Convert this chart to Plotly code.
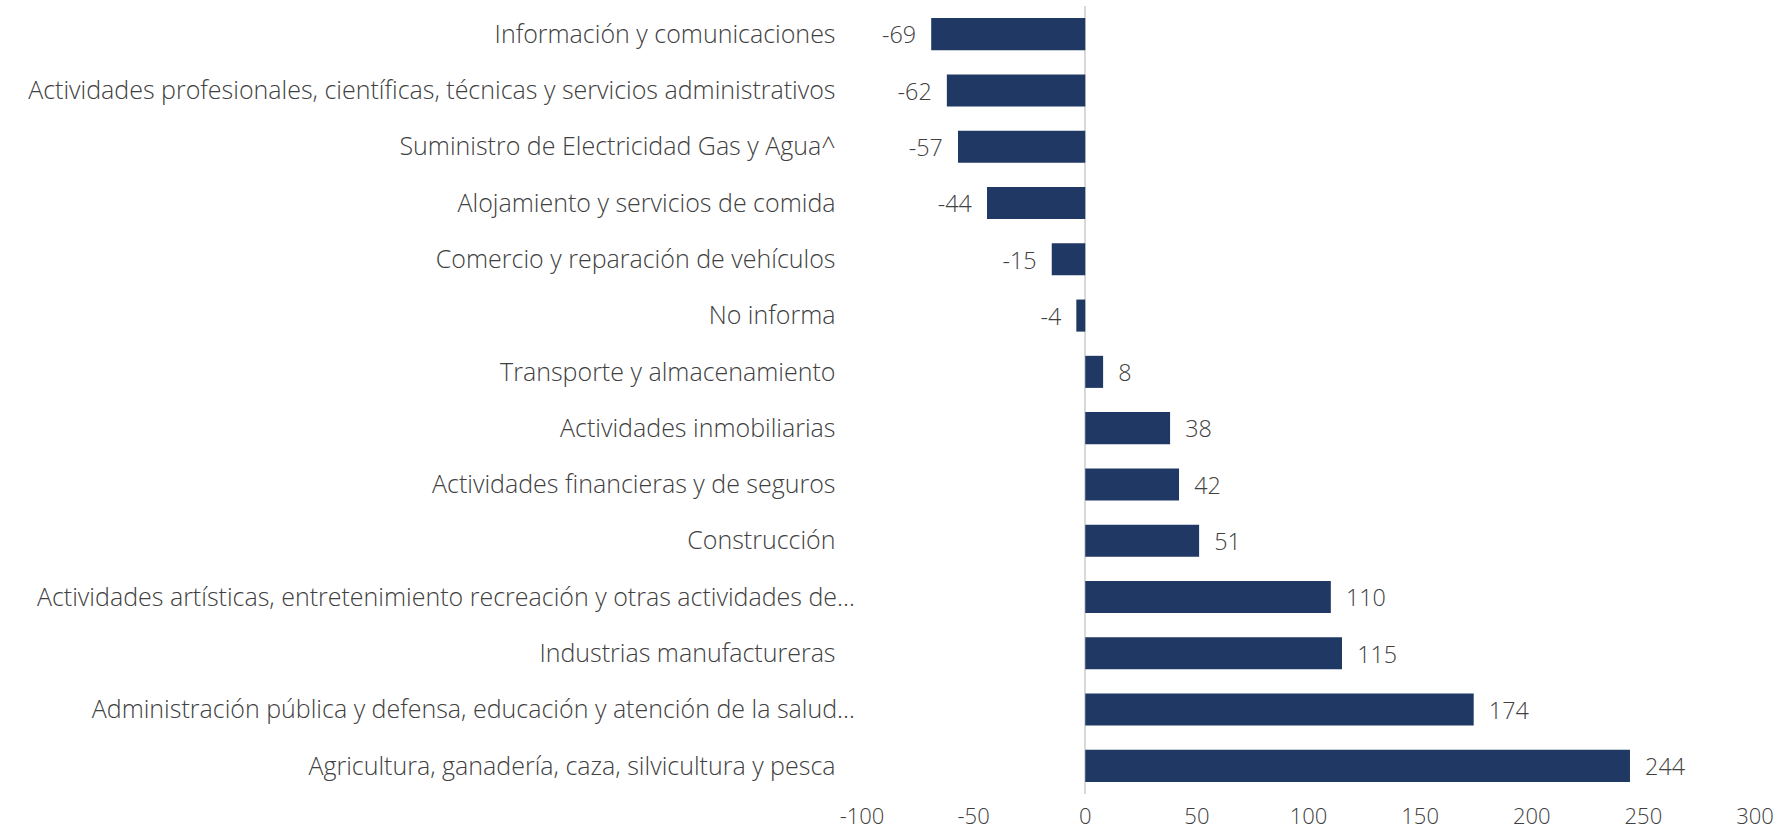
import plotly.graph_objects as go

categories = [
    "Información y comunicaciones",
    "Actividades profesionales, científicas, técnicas y servicios administrativos",
    "Suministro de Electricidad Gas y Agua^",
    "Alojamiento y servicios de comida",
    "Comercio y reparación de vehículos",
    "No informa",
    "Transporte y almacenamiento",
    "Actividades inmobiliarias",
    "Actividades financieras y de seguros",
    "Construcción",
    "Actividades artísticas, entretenimiento recreación y otras actividades de…",
    "Industrias manufactureras",
    "Administración pública y defensa, educación y atención de la salud…",
    "Agricultura, ganadería, caza, silvicultura y pesca",
]
values = [-69, -62, -57, -44, -15, -4, 8, 38, 42, 51, 110, 115, 174, 244]
x_ticks = [-100, -50, 0, 50, 100, 150, 200, 250, 300]
x_tick_labels = ["-100", "-50", "0", "50", "100", "150", "200", "250", "300"]

FONT = "Open Sans"
TXT = "#404040"

tick_text = [c if c.endswith("…") else c + "\u00a0\u00a0\u00a0" for c in categories]
bar_text = [f"{v}\u00a0\u00a0" if v < 0 else f"\u00a0\u00a0{v}" for v in values]

fig = go.Figure(go.Bar(
    x=values, y=categories, orientation="h",
    marker=dict(color="#203864", line=dict(width=0)),
    text=bar_text, textposition="outside", cliponaxis=False,
    textfont=dict(family=FONT, size=24, color=TXT, weight=300),
))

fig.update_layout(
    width=1785, height=834,
    margin=dict(l=862, r=30, t=6, b=40),
    paper_bgcolor="white", plot_bgcolor="white",
    bargap=0.43, showlegend=False,
    font=dict(family=FONT, size=24, color=TXT, weight=300),
    xaxis=dict(range=[-100, 300], tickvals=x_ticks, ticktext=x_tick_labels,
               showgrid=False, automargin=False,
               zeroline=True, zerolinecolor="#d9d9d9", zerolinewidth=1.5,
               showline=False, ticks="", ticklabelstandoff=7,
               tickfont=dict(family=FONT, size=22, color=TXT, weight=300)),
    yaxis=dict(categoryorder="array", categoryarray=categories, autorange="reversed",
               tickmode="array", tickvals=categories, ticktext=tick_text,
               showgrid=False, showline=False, ticks="", ticklabelstandoff=6,
               automargin=False,
               tickfont=dict(family=FONT, size=25, color=TXT, weight=300)),
)

fig.write_html("out.html", config={"displayModeBar": False},
               post_script="document.body.style.margin='0';document.body.style.overflow='hidden';")
